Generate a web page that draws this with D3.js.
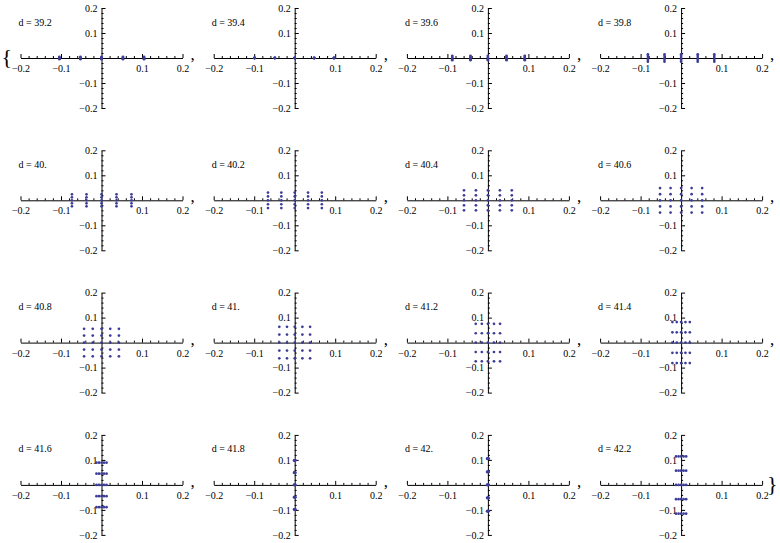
<!DOCTYPE html>
<html>
<head>
<meta charset="utf-8">
<script src="https://cdn.jsdelivr.net/npm/d3@7"></script>
<style>
  body { margin: 0; background: #fff; }
  svg { display: block; }
  .tick text { font-family: "Liberation Serif", "Times New Roman", serif; font-size: 10px; fill: #000; }
  .tick line, .domain { stroke: #000; stroke-width: 1; }
  .dlabel { font-family: "Liberation Serif", "Times New Roman", serif; font-size: 10px; fill: #000; }
  .sep { font-family: "Liberation Serif", "Times New Roman", serif; fill: #000; }
</style>
</head>
<body>
<div class="chart"></div>
<script>
// Panel labels, one per plot
var dLabels = ["39.2", "39.4", "39.6", "39.8",
               "40.", "40.2", "40.4", "40.6",
               "40.8", "41.", "41.2", "41.4",
               "41.6", "41.8", "42.", "42.2"];

// Column x positions of the 5x5 point grid in each plot
var gridX = [
  [-0.104, -0.052, 0, 0.053, 0.105],
  [-0.099, -0.049, 0, 0.048, 0.097],
  [-0.088, -0.043, 0, 0.046, 0.091],
  [-0.082, -0.041, 0, 0.041, 0.082],
  [-0.073, -0.037, 0, 0.037, 0.074],
  [-0.066, -0.033, 0, 0.033, 0.067],
  [-0.059, -0.0296, 0, 0.0296, 0.059],
  [-0.052, -0.026, 0, 0.026, 0.052],
  [-0.043, -0.0216, 0, 0.0216, 0.043],
  [-0.038, -0.019, 0, 0.019, 0.038],
  [-0.030, -0.015, 0, 0.015, 0.030],
  [-0.0215, -0.0107, 0, 0.0107, 0.0215],
  [-0.0124, -0.0062, 0, 0.0062, 0.0124],
  [-0.0016, -0.0008, 0, 0.0008, 0.0016],
  [-0.002, -0.001, 0, 0.001, 0.002],
  [-0.0125, -0.0062, 0, 0.0062, 0.0125]
];

// Row y positions of the point grid in each plot
var gridY = [
  [-0.005, -0.0025, 0, 0.0025, 0.005],
  [-0.0004, -0.0002, 0, 0.0002, 0.0004],
  [-0.009, -0.0045, 0, 0.0045, 0.009],
  [-0.015, -0.0077, 0, 0.0077, 0.015],
  [-0.024, -0.012, 0, 0.012, 0.024],
  [-0.031, -0.0157, 0, 0.0157, 0.031],
  [-0.040, -0.020, 0, 0.020, 0.040],
  [-0.049, -0.0244, 0, 0.0244, 0.049],
  [-0.055, -0.028, 0, 0.028, 0.055],
  [-0.063, -0.032, 0, 0.032, 0.063],
  [-0.075, -0.0375, 0, 0.0375, 0.075],
  [-0.082, -0.041, 0, 0.041, 0.082],
  [-0.089, -0.045, 0, 0.045, 0.089],
  [-0.098, -0.049, 0, 0.049, 0.098],
  [-0.105, -0.052, 0, 0.052, 0.105],
  [-0.115, -0.057, 0, 0.057, 0.114]
];

// Axis ticks
var majorTicks = [-0.2, -0.1, 0.1, 0.2];
var minorTicks = [-0.18, -0.16, -0.14, -0.12, -0.08, -0.06, -0.04, -0.02,
                  0.02, 0.04, 0.06, 0.08, 0.12, 0.14, 0.16, 0.18];

var svgWidth = 780;
var svgHeight = 543;

// Grid layout: axis origin of the first plot and spacing between plots
var cols = 4;
var originX = 101.5, stepX = 193.2;
var originY = 58, stepY = 142.3;
var halfW = 81, halfH = 50;

var svg = d3.select(".chart")
  .append("svg")
  .attr("width", svgWidth)
  .attr("height", svgHeight);

var xScale = d3.scaleLinear().domain([-0.2, 0.2]).range([-halfW, halfW]);
var yScale = d3.scaleLinear().domain([-0.2, 0.2]).range([halfH, -halfH]);
var fmt = d3.format(".1f");

dLabels.forEach(function(label, i) {
  var cx = originX + (i % cols) * stepX;
  var cy = originY + Math.floor(i / cols) * stepY;
  var g = svg.append("g").attr("transform", `translate(${cx}, ${cy})`);

  // x axis: ticks point up, labels below
  g.append("g")
    .call(d3.axisBottom(xScale).tickValues(minorTicks).tickSize(-2).tickSizeOuter(0).tickFormat(""))
    .call(a => a.select(".domain").remove());
  g.append("g")
    .call(d3.axisBottom(xScale).tickValues(majorTicks).tickSize(-4).tickSizeOuter(0).tickPadding(7).tickFormat(fmt))
    .attr("font-family", null).attr("font-size", null);

  // y axis: ticks point right, labels left
  g.append("g")
    .call(d3.axisLeft(yScale).tickValues(minorTicks).tickSize(-2).tickSizeOuter(0).tickFormat(""))
    .call(a => a.select(".domain").remove());
  g.append("g")
    .call(d3.axisLeft(yScale).tickValues(majorTicks).tickSize(-4).tickSizeOuter(0).tickPadding(4).tickFormat(fmt))
    .attr("font-family", null).attr("font-size", null);

  // points: cross product of the grid columns and rows
  var pts = [];
  gridX[i].forEach(function(x) {
    gridY[i].forEach(function(y) { pts.push({x: x, y: y}); });
  });
  g.selectAll("circle")
    .data(pts)
    .enter()
    .append("circle")
    .attr("cx", d => xScale(d.x))
    .attr("cy", d => yScale(d.y))
    .attr("r", 1.35)
    .attr("fill", "#3d3d99");

  g.append("text")
    .attr("class", "dlabel")
    .attr("x", -83)
    .attr("y", -32.5)
    .text("d = " + label);

  // list separators
  if (i < dLabels.length - 1) {
    g.append("text").attr("class", "sep")
      .attr("x", 89).attr("y", 2)
      .attr("font-size", "17px")
      .text(",");
  } else {
    g.append("text").attr("class", "sep")
      .attr("x", 86).attr("y", 6)
      .attr("font-size", "22px")
      .attr("font-weight", "100")
      .text("}");
  }
  if (i === 0) {
    g.append("text").attr("class", "sep")
      .attr("x", -100).attr("y", 6)
      .attr("font-size", "22px")
      .attr("font-weight", "100")
      .text("{");
  }
});
</script>
</body>
</html>
